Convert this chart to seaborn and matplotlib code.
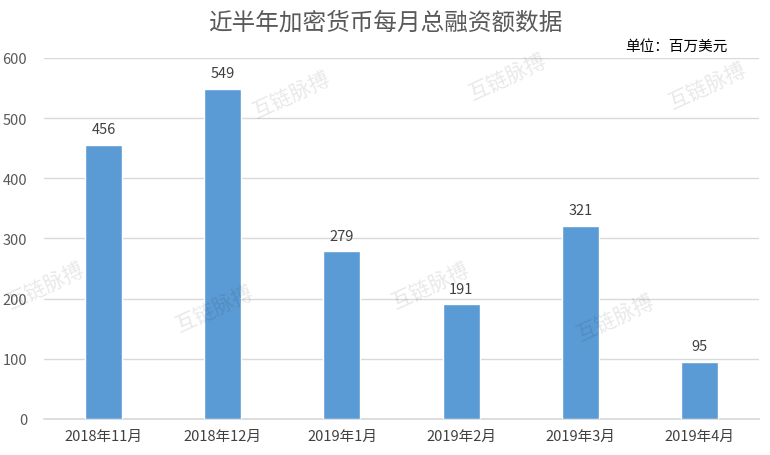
import pandas as pd
import matplotlib.pyplot as plt
import seaborn as sns

# chart data
months = ['2018年11月', '2018年12月', '2019年1月', '2019年2月', '2019年3月', '2019年4月']
amounts = [456, 549, 279, 191, 321, 95]
yticks = [0, 100, 200, 300, 400, 500, 600]

df = pd.DataFrame({'month': months, 'amount': amounts})

sns.set_theme(style='white')
plt.rcParams['font.family'] = ['Noto Sans CJK SC', 'DejaVu Sans']

fig = plt.figure(figsize=(7.7, 4.56), dpi=100)
ax = fig.add_axes([0.057, 0.079, 0.929, 0.792])

sns.barplot(data=df, x='month', y='amount', color='#5b9bd5', saturation=1,
            width=0.31, ax=ax, zorder=3)

# value labels
for i, v in enumerate(amounts):
    ax.text(i, v + 14, str(v), ha='center', va='bottom', fontsize=10.5, color='#404040')

ax.set_ylim(0, 600)
ax.set_xlim(-0.5, len(months) - 0.5)
ax.set_yticks(yticks)
ax.yaxis.grid(True, color='#d9d9d9', linewidth=1, zorder=0)
ax.set_xlabel('')
ax.set_ylabel('')
ax.tick_params(axis='y', length=0, labelsize=10.5, labelcolor='#595959', pad=12)
ax.tick_params(axis='x', which='major', length=0, labelsize=10.5, labelcolor='#404040', pad=7)
ax.set_xticks([i - 0.5 for i in range(len(months) + 1)], minor=True)
ax.tick_params(axis='x', which='minor', length=5, color='#d9d9d9', width=1, direction='out')
for s in ['top', 'right', 'left']:
    ax.spines[s].set_visible(False)
ax.spines['bottom'].set_color('#d9d9d9')

# faint watermarks
marks = [(0.38, 0.79), (0.66, 0.83), (0.92, 0.81), (0.06, 0.37), (0.28, 0.32), (0.56, 0.37), (0.80, 0.30)]
for mx, my in marks:
    fig.text(mx, my, '互链脉搏', fontsize=15, color='#000000', alpha=0.09, rotation=25,
             ha='center', va='center')

fig.text(0.5, 0.95, '近半年加密货币每月总融资额数据', ha='center', va='center',
         fontsize=17, color='#595959')
fig.text(0.945, 0.897, '单位：百万美元', ha='right', va='center', fontsize=10.5, color='#000000')

fig.savefig('out.png', dpi=100)
